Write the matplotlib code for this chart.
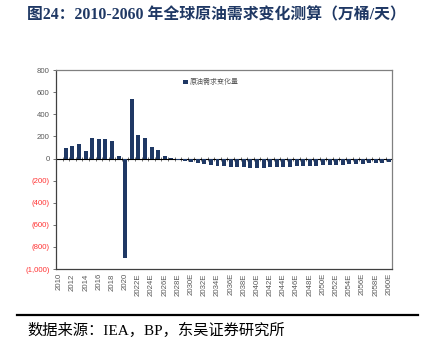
import matplotlib.pyplot as plt
from matplotlib.ticker import FixedLocator

# 数据：全球原油需求年度变化量（万桶/天）
years = list(range(2010, 2061))
labels = [str(y) if y <= 2021 else '%dE' % y for y in years]
demand_change = [0, 95, 110, 135, 70, 190, 175, 178, 160, 25,
                 -900, 535, 210, 190, 105, 78, 25, 3, -12, -25,
                 -33, -42, -50, -57, -63, -67, -72, -77, -80, -85,
                 -85, -82, -80, -79, -76, -72, -70, -69, -68, -63,
                 -62, -57, -55, -55, -53, -49, -48, -43, -42, -39,
                 -34]
yticks = [-1000, -800, -600, -400, -200, 0, 200, 400, 600, 800]

navy = '#1F3864'
grey = '#595959'
cjk = ['Liberation Serif', 'Noto Sans CJK SC']

fig = plt.figure(figsize=(4.24, 3.49), dpi=100)
ax = fig.add_axes([0.132, 0.229, 0.793, 0.570])

x = list(range(len(years)))
ax.bar(x, demand_change, width=0.6, color=navy, label='原油需求变化量', zorder=3)

ax.set_xlim(-0.5, len(years) - 0.5)
ax.set_ylim(-1000, 800)

# x轴标签放在底部，隔一个显示
ax.set_xticks(x[::2])
ax.set_xticklabels(labels[::2], rotation=90, fontsize=5.6, color=grey,
                   family=['Liberation Sans'])
ax.tick_params(axis='x', length=0, pad=3)

# y轴：负数用红色括号格式
ax.set_yticks(yticks)
ylabels = []
for v in yticks:
    if v < 0:
        ylabels.append('({:,})'.format(-v))
    else:
        ylabels.append('{:,}'.format(v))
ax.set_yticklabels(ylabels, fontsize=5.6, family=['Liberation Sans'])
for t, v in zip(ax.get_yticklabels(), yticks):
    t.set_color('#FF3333' if v < 0 else grey)
ax.tick_params(axis='y', length=2.5, width=0.6, color=grey, pad=2)

for s in ['left', 'bottom']:
    ax.spines[s].set_color('#404040')
    ax.spines[s].set_linewidth(0.9)
for s in ['top', 'right']:
    ax.spines[s].set_color('#808080')
    ax.spines[s].set_linewidth(0.9)

# 零轴及其刻度线
zero = ax.secondary_xaxis(1000 / 1800)
zero.set_xticks([])
zero.xaxis.set_minor_locator(FixedLocator([i + 0.5 for i in x[:-1]]))
zero.tick_params(axis='x', which='minor', direction='inout', length=3.5,
                 width=0.6, color=grey)
zero.spines['bottom'].set_color('#404040')
zero.spines['bottom'].set_linewidth(0.9)

leg = ax.legend(loc='upper left', bbox_to_anchor=(0.36, 0.99), frameon=False,
                prop={'family': ['Noto Sans CJK SC'], 'size': 5},
                handlelength=0.7, handleheight=0.7, handletextpad=0.3)
for t in leg.get_texts():
    t.set_color(grey)

# 标题与数据来源
fig.text(0.064, 0.957, '图24：2010-2060 年全球原油需求变化测算（万桶/天）',
         fontsize=11.4, fontweight='bold', color='#1F3864', family=cjk,
         ha='left', va='center')
fig.add_artist(plt.Line2D([0.04, 0.986], [0.097, 0.097], color='black',
                          linewidth=1.6))
fig.text(0.064, 0.052, '数据来源：IEA，BP，东吴证券研究所', fontsize=11,
         color='black', family=cjk, ha='left', va='center')

fig.savefig('out.png', dpi=100)
